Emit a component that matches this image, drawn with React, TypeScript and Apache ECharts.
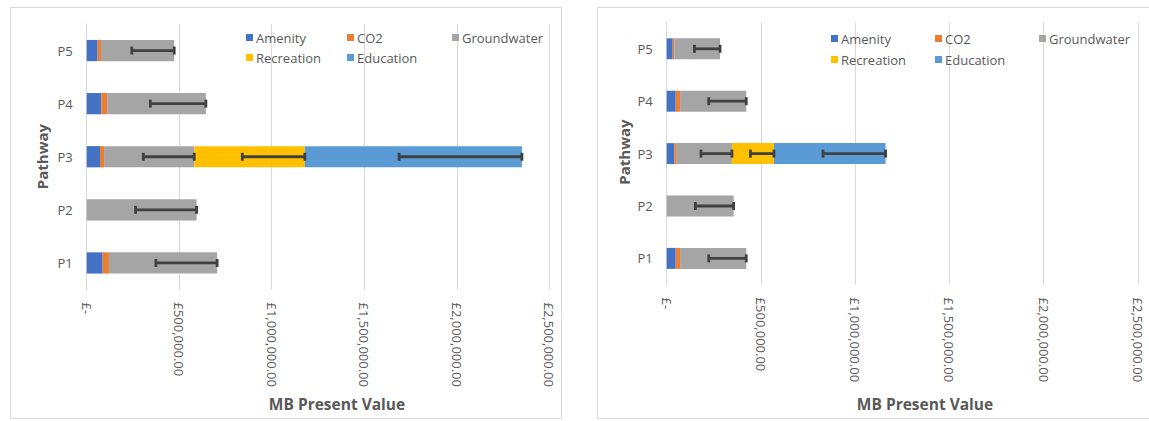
import React, { useEffect, useRef } from "react";
import * as echarts from "echarts";

const categories = ["P1", "P2", "P3", "P4", "P5"];
const seriesNames = ["Amenity", "CO2", "Groundwater", "Recreation", "Education"];
const colors = ["#4472C4", "#ED7D31", "#A5A5A5", "#FFC000", "#5B9BD5"];

// Left panel values
const amenityA = [86000, 0, 72000, 79000, 59000];
const co2A = [34000, 0, 22000, 32000, 18000];
const groundwaterA = [585000, 594000, 487000, 533000, 396000];
const recreationA = [0, 0, 598000, 0, 0];
const educationA = [0, 0, 1173000, 0, 0];
const groundwaterErrA = [331000, 330000, 275000, 300000, 229000];
const recreationErrA = [0, 0, 338000, 0, 0];
const educationErrA = [0, 0, 664000, 0, 0];

// Right panel values
const amenityB = [48000, 0, 41000, 48000, 32000];
const co2B = [23000, 0, 12000, 23000, 9000];
const groundwaterB = [351000, 355000, 293000, 351000, 242000];
const recreationB = [0, 0, 223000, 0, 0];
const educationB = [0, 0, 592000, 0, 0];
const groundwaterErrB = [199000, 203000, 164000, 199000, 136000];
const recreationErrB = [0, 0, 125000, 0, 0];
const educationErrB = [0, 0, 332000, 0, 0];

const xTickValues = [0, 500000, 1000000, 1500000, 2000000, 2500000];
const xTickLabels = ["£-", "£500,000.00", "£1,000,000.00", "£1,500,000.00", "£2,000,000.00", "£2,500,000.00"];

const FONT = '"Open Sans", "Liberation Sans", sans-serif';
const TEXT = "#595959";
const GRIDC = "#d9d9d9";

function errData(parts: number[][], errs: number[][]) {
  const out: number[][] = [];
  for (let i = 0; i < categories.length; i++) {
    let cum = parts[0][i] + parts[1][i];
    for (let k = 0; k < 3; k++) {
      cum += parts[2 + k][i];
      const e = errs[k][i];
      if (e > 0) out.push([cum, i, e]);
    }
  }
  return out;
}

const renderErr = (params: any, api: any) => {
  const end = api.value(0);
  const cat = api.value(1);
  const err = api.value(2);
  const p1 = api.coord([end - err, cat]);
  const p2 = api.coord([end, cat]);
  const h = 4;
  const style = { stroke: "#404040", lineWidth: 2.8 };
  return {
    type: "group",
    children: [
      { type: "line", shape: { x1: p1[0], y1: p1[1], x2: p2[0], y2: p2[1] }, style },
      { type: "line", shape: { x1: p1[0], y1: p1[1] - h, x2: p1[0], y2: p1[1] + h }, style },
      { type: "line", shape: { x1: p2[0], y1: p2[1] - h, x2: p2[0], y2: p2[1] + h }, style },
    ],
  };
};

export default function App() {
  const ref = useRef<HTMLDivElement>(null);
  useEffect(() => {
    if (!ref.current) return;
    const chart = echarts.init(ref.current, undefined, { renderer: "svg" });

    const panels = [
      {
        grid: { left: 86.7, top: 24, width: 462.6, height: 265.5 },
        data: [amenityA, co2A, groundwaterA, recreationA, educationA],
        errs: [groundwaterErrA, recreationErrA, educationErrA],
        legend: [
          [246, 40], [347, 40], [452, 40], [246, 60], [347, 60],
        ],
        title: [337, 404],
        ytitle: [41.5, 156.5],
      },
      {
        grid: { left: 666.7, top: 22.6, width: 471.3, height: 262 },
        data: [amenityB, co2B, groundwaterB, recreationB, educationB],
        errs: [groundwaterErrB, recreationErrB, educationErrB],
        legend: [
          [831, 41], [935, 41], [1039, 41], [831, 62], [935, 62],
        ],
        title: [925, 404],
        ytitle: [624, 152],
      },
    ];

    const grids: any[] = [];
    const xAxes: any[] = [];
    const yAxes: any[] = [];
    const series: any[] = [];
    const legends: any[] = [];
    const graphics: any[] = [
      { type: "rect", silent: true, shape: { x: 10.5, y: 7.5, width: 551, height: 411 }, style: { fill: "none", stroke: GRIDC, lineWidth: 1 } },
      { type: "rect", silent: true, shape: { x: 597.5, y: 7.5, width: 560, height: 411 }, style: { fill: "none", stroke: GRIDC, lineWidth: 1 } },
    ];

    panels.forEach((p, pi) => {
      grids.push({ ...p.grid, containLabel: false });
      xAxes.push({
        type: "value",
        gridIndex: pi,
        min: xTickValues[0],
        max: xTickValues[xTickValues.length - 1],
        interval: xTickValues[1] - xTickValues[0],
        axisLine: { show: false },
        axisTick: { show: false },
        splitLine: { show: true, lineStyle: { color: GRIDC, width: 1 } },
        axisLabel: {
          rotate: -90,
          margin: 13,
          color: TEXT,
          fontSize: 13,
          fontFamily: FONT,
          formatter: (v: number) => {
            const idx = xTickValues.indexOf(v);
            return idx >= 0 ? xTickLabels[idx] : "";
          },
        },
      });
      yAxes.push({
        type: "category",
        gridIndex: pi,
        data: categories,
        axisLine: { show: true, lineStyle: { color: GRIDC, width: 1 } },
        axisTick: { show: false },
        axisLabel: { color: TEXT, fontSize: 13, fontFamily: FONT, margin: 14 },
      });
      seriesNames.forEach((name, si) => {
        series.push({
          type: "bar",
          name,
          xAxisIndex: pi,
          yAxisIndex: pi,
          stack: "total" + pi,
          barCategoryGap: "60%",
          itemStyle: { color: colors[si] },
          data: p.data[si],
        });
      });
      series.push({
        type: "custom",
        name: "err" + pi,
        xAxisIndex: pi,
        yAxisIndex: pi,
        z: 5,
        encode: { x: 0, y: 1 },
        renderItem: renderErr,
        data: errData(p.data, p.errs),
      });
      seriesNames.forEach((name, si) => {
        legends.push({
          data: [name],
          left: p.legend[si][0],
          top: p.legend[si][1] - 9,
          padding: 0,
          icon: "rect",
          itemWidth: 7,
          itemHeight: 7,
          selectedMode: false,
          textStyle: { color: TEXT, fontSize: 13, fontFamily: FONT, padding: [0, 0, 0, -2] },
        });
      });
      graphics.push({
        type: "text",
        silent: true,
        x: p.title[0],
        y: p.title[1],
        style: {
          text: "MB Present Value",
          fill: TEXT,
          fontSize: 15.5,
          fontWeight: "bold",
          fontFamily: FONT,
          align: "center",
          verticalAlign: "middle",
          textAlign: "center",
          textVerticalAlign: "middle",
        },
      });
      graphics.push({
        type: "text",
        silent: true,
        x: p.ytitle[0],
        y: p.ytitle[1],
        rotation: Math.PI / 2,
        style: {
          text: "Pathway",
          fill: TEXT,
          fontSize: 15,
          fontWeight: "bold",
          fontFamily: FONT,
          align: "center",
          verticalAlign: "middle",
          textAlign: "center",
          textVerticalAlign: "middle",
        },
      });
    });

    chart.setOption({
      animation: false,
      backgroundColor: "#ffffff",
      grid: grids,
      xAxis: xAxes,
      yAxis: yAxes,
      legend: legends,
      series,
      graphic: graphics,
    });
    return () => chart.dispose();
  }, []);

  return (
    <div
      ref={ref}
      style={{ position: "fixed", left: 0, top: 0, width: 1149, height: 421, background: "#fff" }}
    />
  );
}
